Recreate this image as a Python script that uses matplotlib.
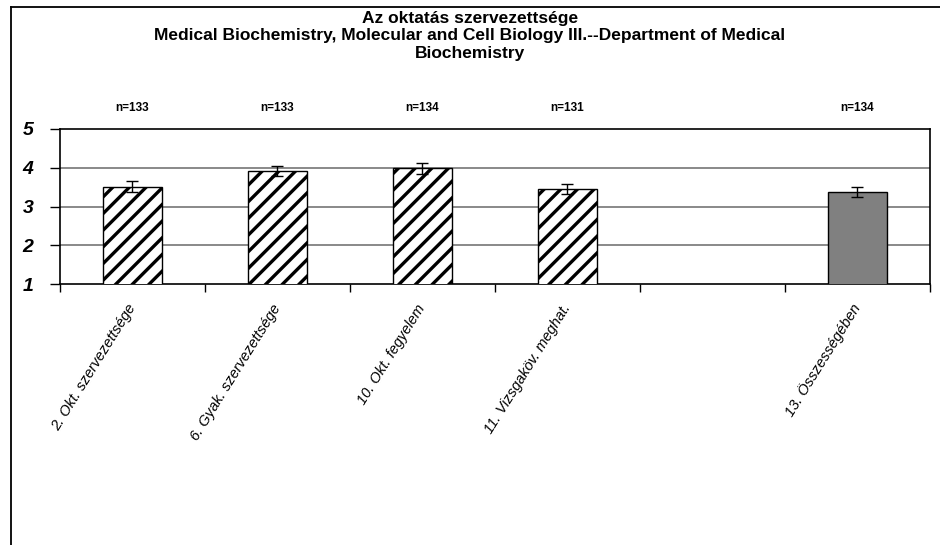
import matplotlib
matplotlib.use("Agg")
import matplotlib.pyplot as plt
import matplotlib.transforms as mtransforms
from matplotlib.lines import Line2D
import numpy as np

plt.rcParams['font.family'] = ['Liberation Sans', 'DejaVu Sans']
plt.rcParams['hatch.linewidth'] = 2.4

# data
categories = ["2. Okt. szervezettsége", "6. Gyak. szervezettsége", "10. Okt. fegyelem",
              "11. Vizsgaköv. meghat.", "", "13. Összességében"]
means = [3.51, 3.91, 3.98, 3.46, np.nan, 3.37]
errors = [0.14, 0.13, 0.14, 0.13, np.nan, 0.13]
counts = ["n=133", "n=133", "n=134", "n=131", "", "n=134"]
is_total = [False, False, False, False, False, True]

title = ("Az oktatás szervezettsége\n"
         "Medical Biochemistry, Molecular and Cell Biology III.--Department of Medical\n"
         "Biochemistry")

fig = plt.figure(figsize=(9.4, 5.45), dpi=100)
ax = fig.add_axes([60 / 940, 1 - 284.3 / 545, 870 / 940, 155.6 / 545])

x = np.arange(len(categories))
for i in range(len(categories)):
    if np.isnan(means[i]):
        continue
    if is_total[i]:
        ax.bar(x[i], means[i], width=0.41, color='#808080', edgecolor='black', linewidth=1, zorder=3)
    else:
        ax.bar(x[i], means[i], width=0.41, facecolor='white', edgecolor='black',
               hatch='//', linewidth=1, zorder=3)
    ax.errorbar(x[i], means[i], yerr=errors[i], fmt='none', ecolor='black',
                elinewidth=1, capsize=4, capthick=1, zorder=4)

ax.set_xlim(-0.5, len(categories) - 0.5)
ax.set_ylim(1, 5)
ax.set_yticks([1, 2, 3, 4, 5])
ax.set_yticklabels(['1', '2', '3', '4', '5'], fontsize=14, fontweight='bold', fontstyle='italic')
ax.tick_params(axis='y', length=7, width=1, pad=12)

ax.set_xticks(np.arange(len(categories) + 1) - 0.5)
ax.set_xticklabels([])
ax.tick_params(axis='x', length=6, width=1, direction='out')

for i, lab in enumerate(categories):
    ax.text(x[i], 0.46, lab, rotation=58, rotation_mode='anchor', ha='right', va='center',
            fontsize=10.5, fontstyle='italic')

for yv in [2, 3, 4]:
    ax.axhline(yv, color='#808080', linewidth=1.3, zorder=1)

for sp in ax.spines.values():
    sp.set_color('black')
    sp.set_linewidth(1.2)

trans = mtransforms.blended_transform_factory(ax.transData, ax.transAxes)
for i, c in enumerate(counts):
    ax.text(x[i], 1.133, c, transform=trans, ha='center', va='center',
            fontsize=8.5, fontweight='bold')

fig.text(0.5, 1 - 11 / 545, title, ha='center', va='top', fontsize=12.5,
         fontweight='bold', linespacing=1.2)

# outer frame (left and top edges)
fig.add_artist(Line2D([11 / 940, 11 / 940], [0, 1 - 7 / 545], color='black', linewidth=1.3,
                      transform=fig.transFigure))
fig.add_artist(Line2D([11 / 940, 1], [1 - 7 / 545, 1 - 7 / 545], color='black', linewidth=1.3,
                      transform=fig.transFigure))

fig.savefig("out.png", dpi=100)
